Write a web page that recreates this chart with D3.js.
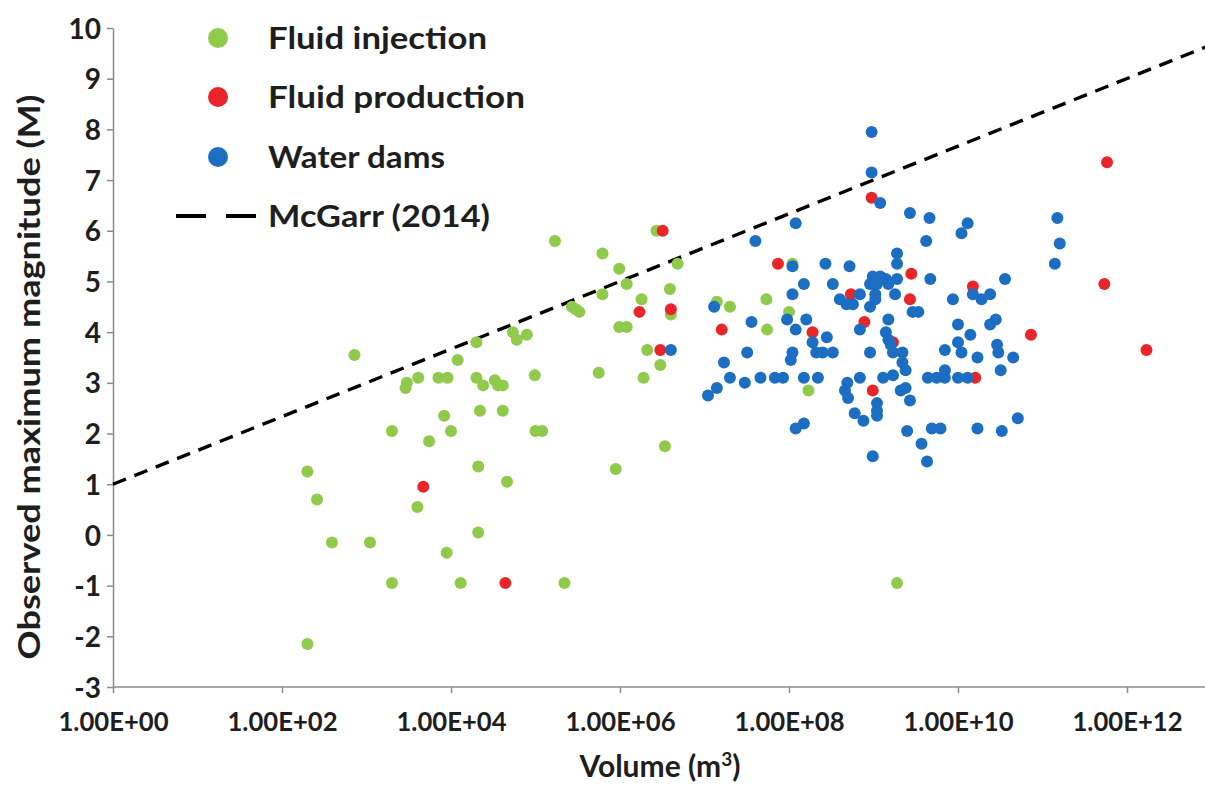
<!DOCTYPE html>
<html>
<head>
<meta charset="utf-8">
<script src="https://cdn.jsdelivr.net/npm/d3@7"></script>
<style>
  html, body { margin: 0; padding: 0; background: #fff; }
  svg { display: block; }
  text { font-family: Lato, "Open Sans", sans-serif; font-weight: bold; fill: #1e1e1e; }
</style>
</head>
<body>
<svg id="chart" width="1205" height="785"></svg>
<script>
// ---------- data ----------
const injection = [
  [2.0e2, 1.25], [2.6e2, 0.7], [3.9e2, -0.15], [2.0e2, -2.15], [7.2e2, 3.55], [2.0e3, 2.05],
  [1.1e3, -0.15], [2.0e3, -0.95], [3.0e3, 3.0], [2.9e3, 2.9], [4.0e3, 0.55], [4.1e3, 3.1],
  [5.5e3, 1.85], [7.1e3, 3.1], [9.1e3, 3.1], [8.3e3, 2.35], [8.9e3, -0.35], [1.0e4, 2.05],
  [1.2e4, 3.45], [1.3e4, -0.95], [2.0e4, 3.8], [2.0e4, 3.1], [2.4e4, 2.95], [2.2e4, 2.45],
  [2.1e4, 1.35], [2.1e4, 0.05], [3.3e4, 3.05], [3.6e4, 2.95], [4.1e4, 2.95], [4.1e4, 2.45],
  [4.6e4, 1.05], [5.4e4, 4.0], [6.0e4, 3.85], [7.9e4, 3.95], [9.8e4, 3.15], [1.0e5, 2.05],
  [1.2e5, 2.05], [2.2e5, -0.95], [1.7e5, 5.8], [2.7e5, 4.5], [3.0e5, 4.45], [3.3e5, 4.4],
  [5.6e5, 3.2], [6.2e5, 5.55], [6.2e5, 4.75], [8.9e5, 1.3], [9.8e5, 5.25], [1.2e6, 4.95],
  [9.8e5, 4.1], [1.2e6, 4.1], [1.8e6, 4.65], [1.9e6, 3.1], [2.1e6, 3.65], [2.7e6, 6.0],
  [3.0e6, 3.35], [3.4e6, 1.75], [3.9e6, 4.85], [4.0e6, 4.35], [4.8e6, 5.35], [1.4e7, 4.6],
  [2.0e7, 4.5], [5.4e7, 4.65], [5.5e7, 4.05], [1.1e8, 5.35], [1.0e8, 4.4], [1.7e8, 2.85],
  [1.9e9, -0.95]
];

const production = [
  [4.7e3, 0.95], [4.4e4, -0.95], [1.7e6, 4.4], [3.2e6, 6.0], [4.0e6, 4.45], [3.0e6, 3.65],
  [1.6e7, 4.05], [7.4e7, 5.35], [1.9e8, 4.0], [5.4e8, 4.75], [7.8e8, 4.2], [9.8e8, 2.85],
  [9.5e8, 6.65], [1.7e9, 3.8], [2.8e9, 5.15], [2.7e9, 4.65], [1.5e10, 4.9], [1.6e10, 3.1],
  [7.3e10, 3.95], [5.4e11, 4.95], [5.8e11, 7.35], [1.7e12, 3.65]
];

const dams = [
  [4.0e6, 3.65], [1.3e7, 4.5], [1.7e7, 3.4], [2.0e7, 3.1], [1.4e7, 2.9], [1.1e7, 2.75],
  [3.0e7, 3.0], [3.2e7, 3.6], [3.6e7, 4.2], [4.0e7, 5.8], [4.6e7, 3.1], [6.8e7, 3.1],
  [8.5e7, 3.1], [9.5e7, 4.25], [1.05e8, 3.45], [1.1e8, 3.6], [1.1e8, 5.3], [1.1e8, 4.75],
  [1.2e8, 6.15], [1.2e8, 4.05], [1.5e8, 4.95], [1.5e8, 3.1], [1.6e8, 4.25], [1.9e8, 3.8],
  [2.2e8, 3.1], [2.1e8, 3.6], [2.5e8, 3.6], [3.3e8, 3.6], [2.8e8, 3.9], [1.2e8, 2.1],
  [1.5e8, 2.2], [2.7e8, 5.35], [3.3e8, 4.95], [4.0e8, 4.65], [4.8e8, 4.55], [5.7e8, 4.55],
  [5.2e8, 5.3], [6.9e8, 4.75], [6.9e8, 4.05], [6.9e8, 3.1], [4.9e8, 3.0], [4.6e8, 2.85],
  [5.0e8, 2.7], [6.0e8, 2.4], [7.6e8, 2.25], [9.1e8, 4.95], [9.8e8, 5.1], [1.2e9, 5.1],
  [1.4e9, 5.05], [1.9e9, 5.05], [1.1e9, 4.95], [1.5e9, 4.95], [1.05e9, 4.75], [1.05e9, 4.65],
  [1.8e9, 4.75], [9.1e8, 4.5], [1.9e9, 5.55], [1.9e9, 5.35], [9.5e8, 7.95], [9.5e8, 7.15],
  [1.2e9, 6.55], [2.7e9, 6.35], [4.6e9, 6.25], [4.2e9, 5.8], [4.7e9, 5.05], [2.9e9, 4.4],
  [3.4e9, 4.4], [1.5e9, 4.25], [1.4e9, 4.0], [1.5e9, 3.85], [9.1e8, 3.6], [1.6e9, 3.75],
  [1.7e9, 3.6], [2.2e9, 3.6], [2.2e9, 3.4], [2.4e9, 3.25], [1.3e9, 3.1], [1.7e9, 3.15],
  [2.1e9, 2.85], [2.4e9, 2.9], [2.7e9, 2.65], [1.1e9, 2.6], [1.1e9, 2.45], [1.1e9, 2.35],
  [9.8e8, 1.55], [2.5e9, 2.05], [3.7e9, 1.8], [4.3e9, 1.45], [4.9e9, 2.1], [6.2e9, 2.1],
  [4.4e9, 3.1], [5.6e9, 3.1], [7.0e9, 3.1], [7.0e9, 3.25], [1.0e10, 3.1], [1.3e10, 3.1],
  [7.0e9, 3.65], [1.0e10, 3.8], [1.1e10, 3.6], [1.0e10, 4.15], [1.4e10, 3.95], [8.7e9, 4.65],
  [1.7e10, 3.5], [2.4e10, 4.15], [2.8e10, 4.25], [2.9e10, 3.75], [3.0e10, 3.6], [3.2e10, 3.25],
  [4.5e10, 3.5], [5.1e10, 2.3], [1.7e10, 2.1], [3.3e10, 2.05], [1.5e10, 4.75], [1.9e10, 4.65],
  [2.4e10, 4.75], [3.6e10, 5.05], [1.3e10, 6.15], [1.1e10, 5.95], [1.5e11, 6.25], [1.6e11, 5.75],
  [1.4e11, 5.35]
];

const mcgarr = [[1e0, 1.0], [1e13, 9.67]];

const xTicks = [1e0, 1e2, 1e4, 1e6, 1e8, 1e10, 1e12];
const xTickLabels = ["1.00E+00", "1.00E+02", "1.00E+04", "1.00E+06", "1.00E+08", "1.00E+10", "1.00E+12"];
const yTicks = [-3, -2, -1, 0, 1, 2, 3, 4, 5, 6, 7, 8, 9, 10];

const seriesNames = ["Fluid injection", "Fluid production", "Water dams"];
const lineName = "McGarr (2014)";
const xTitle = "Volume (m";
const yTitle = "Observed maximum  magnitude (M)";

// ---------- drawing ----------
const colors = ["#8fca4a", "#e8262a", "#1b6ec2"];
const svg = d3.select("#chart");

const x = d3.scaleLog().domain([1e0, 1e13]).range([113, 1211.5]);
const y = d3.scaleLinear().domain([-3, 10]).range([687, 28]);

// axes
const axisColor = "#8a8a8a";
const xAxis = svg.append("g").attr("transform", `translate(0,${y(-3)})`)
  .call(d3.axisBottom(x).tickValues(xTicks).tickFormat((d, i) => xTickLabels[i]).tickSize(6).tickSizeOuter(0));
xAxis.select(".domain").attr("stroke", axisColor).attr("stroke-width", 1.5).attr("d", `M${x(1)},0H1205`);
xAxis.selectAll(".tick line").attr("stroke", axisColor).attr("stroke-width", 1.5);
xAxis.selectAll(".tick text").attr("dy", "0").attr("y", 44).style("font-size", "26px").attr("fill", "#1e1e1e")
  .attr("textLength", 110).attr("lengthAdjust", "spacingAndGlyphs");

const yAxis = svg.append("g").attr("transform", `translate(${x(1)},0)`)
  .call(d3.axisLeft(y).tickValues(yTicks).tickFormat(d3.format("d")).tickSize(6).tickSizeOuter(0));
yAxis.select(".domain").attr("stroke", axisColor).attr("stroke-width", 1.5);
yAxis.selectAll(".tick line").attr("stroke", axisColor).attr("stroke-width", 1.5);
yAxis.selectAll(".tick text").attr("x", -12).attr("dy", "0.36em").style("font-size", "28px").attr("fill", "#1e1e1e")
  .text(d => d < 0 ? "-" + Math.abs(d) : d);

// McGarr line
svg.append("path")
  .datum(mcgarr)
  .attr("d", d3.line().x(d => x(d[0])).y(d => y(d[1])))
  .attr("fill", "none").attr("stroke", "#000").attr("stroke-width", 3.4)
  .attr("stroke-dasharray", "14,9");

// points (order: injection, production, dams)
[injection, production, dams].forEach((data, i) => {
  svg.append("g").selectAll("circle").data(data).join("circle")
    .attr("cx", d => x(d[0])).attr("cy", d => y(d[1])).attr("r", 6)
    .attr("fill", colors[i]);
});

// legend
const legY = [38, 97, 157];
const legW = [219, 257, 177];
seriesNames.forEach((name, i) => {
  svg.append("circle").attr("cx", 218).attr("cy", legY[i]).attr("r", 10).attr("fill", colors[i]);
  svg.append("text").attr("x", 268).attr("y", legY[i]).attr("dy", "0.36em")
    .style("font-size", "31px").attr("textLength", legW[i]).attr("lengthAdjust", "spacingAndGlyphs").text(name);
});
svg.append("line").attr("x1", 176).attr("x2", 262).attr("y1", 216).attr("y2", 216)
  .attr("stroke", "#000").attr("stroke-width", 4).attr("stroke-dasharray", "30,20");
svg.append("text").attr("x", 268).attr("y", 216).attr("dy", "0.36em")
  .style("font-size", "31px").attr("textLength", 222).attr("lengthAdjust", "spacingAndGlyphs").text(lineName);

// titles
const xt = svg.append("text").attr("x", 660).attr("y", 777).attr("text-anchor", "middle").style("font-size", "30px");
xt.append("tspan").text(xTitle);
xt.append("tspan").text("3").attr("dy", "-11").style("font-size", "19px");
xt.append("tspan").text(")").attr("dy", "11");

svg.append("text")
  .attr("transform", `translate(40,377) rotate(-90)`)
  .attr("text-anchor", "middle").style("font-size", "30px")
  .attr("textLength", 565).attr("lengthAdjust", "spacingAndGlyphs").text(yTitle);
</script>
</body>
</html>
